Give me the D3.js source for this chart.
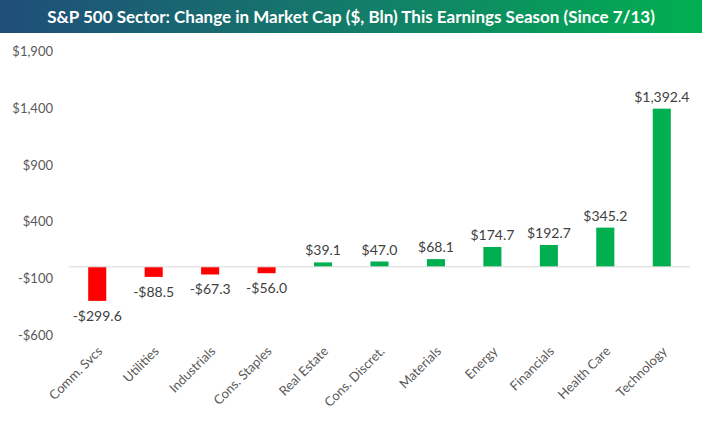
<!DOCTYPE html>
<html>
<head>
<meta charset="utf-8">
<script src="https://cdn.jsdelivr.net/npm/d3@7"></script>
<style>
body { margin: 0; background: #fff; }
text { font-family: Lato, "Open Sans", sans-serif; }
</style>
</head>
<body>
<script>
var sectors = ['Comm. Svcs', 'Utilities', 'Industrials', 'Cons. Staples', 'Real Estate',
  'Cons. Discret.', 'Materials', 'Energy', 'Financials', 'Health Care', 'Technology'];
var values = [-299.6, -88.5, -67.3, -56.0, 39.1, 47.0, 68.1, 174.7, 192.7, 345.2, 1392.4];
var yTicks = [-600, -100, 400, 900, 1400, 1900];

var width = 702, height = 426;

var svg = d3.select('body').append('svg')
  .attr('width', width)
  .attr('height', height);

// title bar with blue -> green gradient
var grad = svg.append('defs').append('linearGradient')
  .attr('id', 'tg');
grad.append('stop').attr('offset', '0%').attr('stop-color', '#1f4e79');
grad.append('stop').attr('offset', '55%').attr('stop-color', '#128068');
grad.append('stop').attr('offset', '100%').attr('stop-color', '#00b050');

svg.append('rect')
  .attr('x', 0).attr('y', 0)
  .attr('width', width).attr('height', 33)
  .attr('fill', 'url(#tg)');
svg.append('text')
  .attr('x', width / 2).attr('y', 23)
  .attr('text-anchor', 'middle')
  .attr('fill', '#fff')
  .attr('font-size', 17)
  .attr('font-weight', 'bold')
  .text('S&P 500 Sector: Change in Market Cap ($, Bln) This Earnings Season (Since 7/13)');

var x = d3.scaleBand()
  .domain(sectors)
  .range([69, 690])
  .paddingInner(0.68)
  .paddingOuter(0.34);

var y = d3.scaleLinear()
  .domain([-600, 1900])
  .range([335, 51]);

var fmt = function(v, dec) {
  var s = '$' + d3.format(dec ? ',.1f' : ',')(Math.abs(v));
  return v < 0 ? '-' + s : s;
};

// y tick labels
svg.selectAll('.ytick')
  .data(yTicks)
  .enter().append('text')
  .attr('x', 53)
  .attr('y', function(d) { return y(d) + 5; })
  .attr('text-anchor', 'end')
  .attr('font-size', 13)
  .attr('fill', '#595959')
  .text(function(d) { return fmt(d, false); });

// bars
svg.selectAll('.bar')
  .data(values)
  .enter().append('rect')
  .attr('x', function(d, i) { return x(sectors[i]); })
  .attr('width', x.bandwidth())
  .attr('y', function(d) { return y(Math.max(0, d)); })
  .attr('height', function(d) { return Math.abs(y(d) - y(0)); })
  .attr('fill', function(d) { return d < 0 ? '#ff0000' : '#00b050'; });

// zero line
svg.append('line')
  .attr('x1', 69).attr('x2', 690)
  .attr('y1', y(0)).attr('y2', y(0))
  .attr('stroke', '#d9d9d9')
  .attr('stroke-width', 1);

// value labels
svg.selectAll('.val')
  .data(values)
  .enter().append('text')
  .attr('x', function(d, i) { return x(sectors[i]) + x.bandwidth() / 2; })
  .attr('y', function(d) { return d < 0 ? y(d) + 20 : y(d) - 7; })
  .attr('text-anchor', 'middle')
  .attr('font-size', 14)
  .attr('fill', '#404040')
  .text(function(d) { return fmt(d, true); });

// category labels, rotated
svg.selectAll('.cat')
  .data(sectors)
  .enter().append('text')
  .attr('transform', function(d) {
    return 'translate(' + (x(d) + x.bandwidth() / 2 + 6) + ',352) rotate(-45)';
  })
  .attr('text-anchor', 'end')
  .attr('font-size', 13)
  .attr('fill', '#595959')
  .text(function(d) { return d; });
</script>
</body>
</html>
